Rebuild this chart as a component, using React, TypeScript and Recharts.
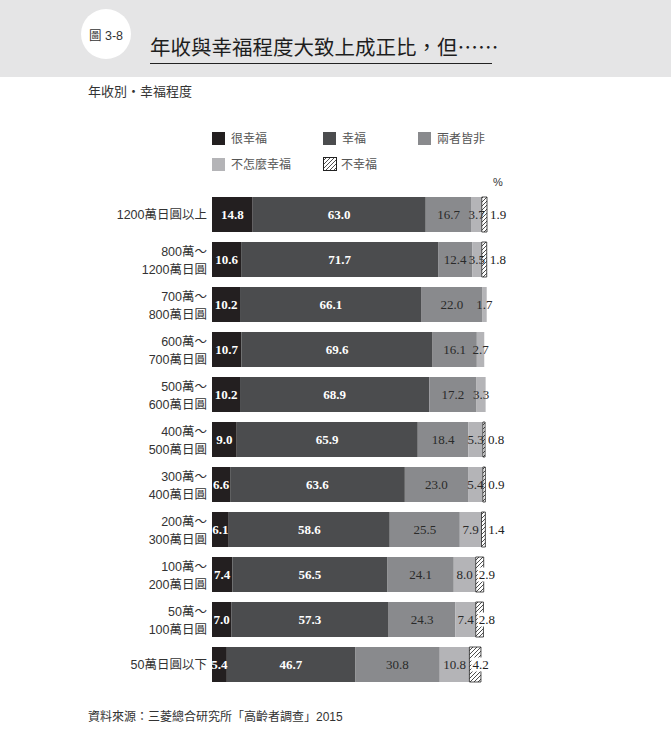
import { BarChart, Bar, XAxis, YAxis, LabelList } from 'recharts'

const categories = [
  '1200萬日圓以上',
  '800萬～\n1200萬日圓',
  '700萬～\n800萬日圓',
  '600萬～\n700萬日圓',
  '500萬～\n600萬日圓',
  '400萬～\n500萬日圓',
  '300萬～\n400萬日圓',
  '200萬～\n300萬日圓',
  '100萬～\n200萬日圓',
  '50萬～\n100萬日圓',
  '50萬日圓以下',
]
const veryHappy = [14.8, 10.6, 10.2, 10.7, 10.2, 9.0, 6.6, 6.1, 7.4, 7.0, 5.4]
const happy = [63.0, 71.7, 66.1, 69.6, 68.9, 65.9, 63.6, 58.6, 56.5, 57.3, 46.7]
const neither = [16.7, 12.4, 22.0, 16.1, 17.2, 18.4, 23.0, 25.5, 24.1, 24.3, 30.8]
const notVery = [3.7, 3.5, 1.7, 2.7, 3.3, 5.3, 5.4, 7.9, 8.0, 7.4, 10.8]
const unhappy = [1.9, 1.8, null, null, null, 0.8, 0.9, 1.4, 2.9, 2.8, 4.2]

const seriesNames = ['很幸福', '幸福', '兩者皆非', '不怎麼幸福', '不幸福']

const data = categories.map((name, i) => ({
  name,
  veryHappy: veryHappy[i],
  happy: happy[i],
  neither: neither[i],
  notVery: notVery[i],
  unhappy: unhappy[i],
}))

const CJK = '"Noto Sans CJK TC", sans-serif'
const LATIN_CJK = '"Liberation Sans", "Noto Sans CJK TC", sans-serif'
const SERIF = '"Liberation Serif", serif'

const fmt = (v: number) => v.toFixed(1)

function CategoryTick({ y, payload }: any) {
  const lines = String(payload.value).split('\n')
  return (
    <text x={207} y={y} textAnchor="end" fontSize={12.5} fill="#333" fontFamily={LATIN_CJK}>
      {lines.length === 1 ? (
        <tspan x={207} dy={4.5}>{lines[0]}</tspan>
      ) : (
        <>
          <tspan x={207} dy={-3.5}>{lines[0]}</tspan>
          <tspan x={207} dy={17.5}>{lines[1]}</tspan>
        </>
      )}
    </text>
  )
}

// centred value label inside a segment
const inside = (color: string, weight: string) => (props: any) => {
  const { x, y, width, height, value } = props
  if (value == null) return null
  return (
    <text
      x={x + width / 2} y={y + height / 2 + 4.5}
      textAnchor="middle" fontSize={13} fontFamily={SERIF}
      fontWeight={weight} fill={color}
    >
      {fmt(value)}
    </text>
  )
}

// 不幸福: outside when thin, on a white box when wider
function UnhappyLabel(props: any) {
  const { x, y, width, height, value } = props
  if (value == null) return null
  const cy = y + height / 2
  if (value < 2.5) {
    return (
      <text x={x + width + 3} y={cy + 4.5} fontSize={13} fontFamily={SERIF} fill="#222">
        {fmt(value)}
      </text>
    )
  }
  return (
    <g>
      <rect x={x + 2} y={cy - 7} width={19} height={14} fill="#fff" />
      <text x={x + 3} y={cy + 4.5} fontSize={13} fontFamily={SERIF} fill="#222">
        {fmt(value)}
      </text>
    </g>
  )
}

function LegendItem({ left, top, color, label }: { left: number; top: number; color: string; label: string }) {
  return (
    <div style={{ position: 'absolute', left, top, display: 'flex', alignItems: 'center' }}>
      {color === 'hatch' ? (
        <svg width={14} height={14} style={{ display: 'block' }}>
          <rect x={0.5} y={0.5} width={13} height={13} fill="url(#hatch)" stroke="#222" strokeWidth={1} />
        </svg>
      ) : (
        <div style={{ width: 13, height: 13, background: color }} />
      )}
      <span style={{ marginLeft: color === 'hatch' ? 4 : 6, fontSize: 12, color: '#555', fontFamily: CJK, lineHeight: '14px' }}>
        {label}
      </span>
    </div>
  )
}

export default function App() {
  return (
    <div style={{ position: 'absolute', left: 0, top: 0, width: 671, height: 743, background: '#fff', overflow: 'hidden' }}>
      <svg width={0} height={0} style={{ position: 'absolute' }}>
        <defs>
          <pattern id="hatch" patternUnits="userSpaceOnUse" width={4} height={4}>
            <rect width={4} height={4} fill="#fff" />
            <path d="M-1,1 l2,-2 M0,4 l4,-4 M3,5 l2,-2" stroke="#222" strokeWidth={0.8} />
          </pattern>
        </defs>
      </svg>

      {/* header band */}
      <div style={{ position: 'absolute', left: 0, top: 0, width: 671, height: 77, background: '#e5e5e6' }} />
      <div style={{
        position: 'absolute', left: 81, top: 9, width: 50, height: 50, borderRadius: '50%', background: '#fff',
        display: 'flex', alignItems: 'center', justifyContent: 'center',
        fontSize: 12.5, color: '#333', fontFamily: LATIN_CJK, whiteSpace: 'nowrap',
      }}>
        圖 3-8
      </div>
      <div style={{
        position: 'absolute', left: 150, top: 33, fontSize: 20.5, lineHeight: '26px', color: '#1e1e1e',
        fontFamily: CJK, whiteSpace: 'nowrap',
      }}>
        年收與幸福程度大致上成正比，但……
      </div>
      <div style={{ position: 'absolute', left: 150, top: 63, width: 342, height: 1, background: '#222' }} />

      <div style={{ position: 'absolute', left: 88, top: 82, fontSize: 13, lineHeight: '18px', color: '#333', fontFamily: CJK }}>
        年收別・幸福程度
      </div>

      <LegendItem left={212} top={131} color="#231f20" label={seriesNames[0]} />
      <LegendItem left={323} top={131} color="#4b4c4e" label={seriesNames[1]} />
      <LegendItem left={418} top={131} color="#898a8d" label={seriesNames[2]} />
      <LegendItem left={212} top={157} color="#b4b4b7" label={seriesNames[3]} />
      <LegendItem left={323} top={157} color="hatch" label={seriesNames[4]} />

      <div style={{ position: 'absolute', left: 493, top: 175, fontSize: 11, lineHeight: '14px', color: '#333', fontFamily: LATIN_CJK }}>
        %
      </div>

      <div style={{ position: 'absolute', left: 0, top: 0 }}>
        <BarChart
          width={671} height={743} data={data} layout="vertical"
          margin={{ top: 192, right: 184, bottom: 56, left: 0 }}
          barSize={35}
        >
          <XAxis type="number" domain={[0, 100]} hide />
          <YAxis
            type="category" dataKey="name" width={212}
            axisLine={false} tickLine={false} interval={0}
            tick={<CategoryTick />}
          />
          <Bar dataKey="veryHappy" stackId="a" fill="#231f20" isAnimationActive={false}>
            <LabelList dataKey="veryHappy" content={inside('#fff', 'bold')} />
          </Bar>
          <Bar dataKey="happy" stackId="a" fill="#4b4c4e" isAnimationActive={false}>
            <LabelList dataKey="happy" content={inside('#fff', 'bold')} />
          </Bar>
          <Bar dataKey="neither" stackId="a" fill="#898a8d" isAnimationActive={false}>
            <LabelList dataKey="neither" content={inside('#2a2a2a', 'normal')} />
          </Bar>
          <Bar dataKey="notVery" stackId="a" fill="#b4b4b7" isAnimationActive={false}>
            <LabelList dataKey="notVery" content={inside('#2a2a2a', 'normal')} />
          </Bar>
          <Bar dataKey="unhappy" stackId="a" fill="url(#hatch)" stroke="#222" strokeWidth={0.8} isAnimationActive={false}>
            <LabelList dataKey="unhappy" content={<UnhappyLabel />} />
          </Bar>
        </BarChart>
      </div>

      <div style={{ position: 'absolute', left: 88, top: 709, fontSize: 12, lineHeight: '16px', color: '#333', fontFamily: LATIN_CJK, whiteSpace: 'nowrap' }}>
        資料來源：三菱總合研究所「高齡者調查」2015
      </div>
    </div>
  )
}
